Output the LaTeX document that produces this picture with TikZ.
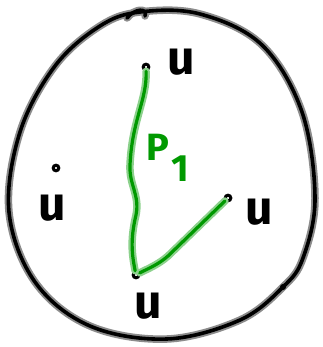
\documentclass[tikz,border=0pt]{standalone}
\usepackage{fontspec}
\setmainfont{Fira Sans}
\begin{document}
\begin{tikzpicture}[x=1pt,y=-1pt,
  halo/.style={line width=7.5pt,draw=black!45,line cap=round,line join=round},
  ink/.style={line width=3.6pt,draw=black,line cap=round,line join=round},
  ghalo/.style={line width=7.5pt,draw=green!60!black!45,line cap=round,line join=round},
  gink/.style={line width=3.2pt,draw=green!60!black,line cap=round,line join=round},
  vtx/.style={circle,draw=black,line width=3pt,inner sep=2pt,fill=white},
  lab/.style={font=\fontsize{48}{48}\selectfont\bfseries,text=black,inner sep=0pt}]
\useasboundingbox (0,0) rectangle (322,347);
% outline
\foreach \s in {halo,ink}{
\draw[\s] plot[smooth cycle,tension=0.6] coordinates {(140,12) (200,14) (262,45) (302,112) (315,198) (303,258) (283,287) (240,320) (167,339) (90,326) (35,282) (9,212) (20,132) (55,66) (100,26)};
\draw[\s] (127,18) .. controls (135,8) and (148,8) .. (145,16);
}
% vertices
\node[vtx] (t) at (146,67) {};
\node[vtx] (l) at (56,168) {};
\node[vtx] (r) at (228,198) {};
\node[vtx] (b) at (136,275) {};
\fill (283,287) circle (3pt);
% labels
\node[lab] (ut) at (181,62) {u};
\node[lab] (ul) at (52,208) {u};
\node[lab] (ur) at (259,212) {u};
\node[lab] (ub) at (148,306) {u};
% green paths
\foreach \s in {ghalo,gink}{
\draw[\s] (t) .. controls (147,100) and (132,120) .. (130,165)
   .. controls (129,185) and (140,195) .. (136,215)
   .. controls (130,240) and (132,255) .. (b);
\draw[\s] (b) .. controls (145,270) and (158,265) .. (168,256) -- (r);
}
\node[text=green!60!black,font=\fontsize{38}{38}\selectfont\bfseries,inner sep=0pt] (p) at (168,158) {P\raisebox{-0.55em}{\hspace{0.05em}1}};
\end{tikzpicture}
\end{document}
